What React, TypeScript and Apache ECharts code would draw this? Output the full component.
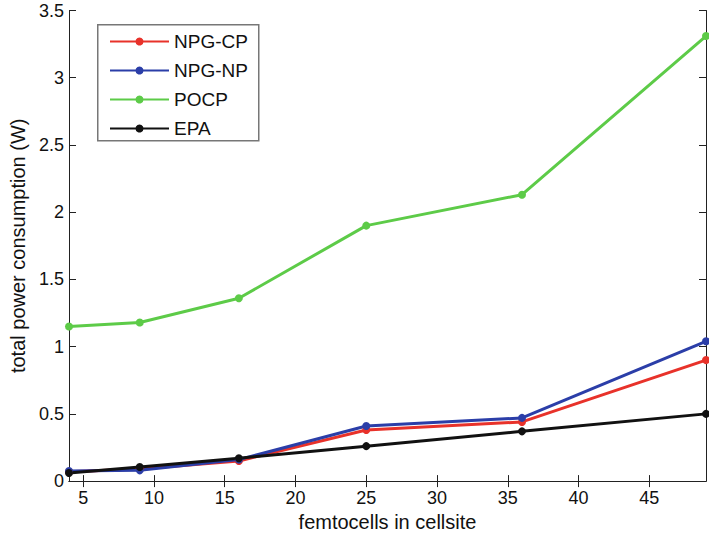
import React, { useEffect, useRef } from "react";
import * as echarts from "echarts";

const xValues = [4, 9, 16, 25, 36, 49];
const npgCP = [0.07, 0.09, 0.15, 0.38, 0.44, 0.9];
const npgNP = [0.075, 0.08, 0.16, 0.41, 0.47, 1.04];
const pocp = [1.15, 1.18, 1.36, 1.9, 2.13, 3.31];
const epa = [0.06, 0.105, 0.17, 0.26, 0.37, 0.5];
const seriesNames = ["NPG-CP", "NPG-NP", "POCP", "EPA"];
const seriesColors = ["#e8322a", "#2b3ea8", "#5dcb48", "#111111"];
const xTicks = [5, 10, 15, 20, 25, 30, 35, 40, 45];

const FONT = "'Liberation Sans', Arial, Helvetica, sans-serif";

export default function App() {
  const ref = useRef<HTMLDivElement>(null);
  useEffect(() => {
    document.body.style.margin = "0";
    if (!ref.current) return;
    const chart = echarts.init(ref.current, undefined, { renderer: "svg" });
    const allData = [npgCP, npgNP, pocp, epa];
    const axisLine = { show: true, lineStyle: { color: "#222", width: 1 } };
    const baseX = {
      type: "value" as const,
      min: 4,
      max: 49,
      splitLine: { show: false },
      axisLine,
    };
    const baseY = {
      type: "value" as const,
      min: 0,
      max: 3.5,
      interval: 0.5,
      splitLine: { show: false },
      axisLine,
    };
    chart.setOption({
      animation: false,
      backgroundColor: "#fff",
      textStyle: { fontFamily: FONT },
      grid: { left: 67.5, top: 10.5, right: 3, bottom: 55.5, containLabel: false },
      xAxis: [
        {
          ...baseX,
          position: "bottom",
          name: "femtocells in cellsite",
          nameLocation: "middle",
          nameGap: 30,
          nameTextStyle: { fontSize: 20, color: "#111", fontFamily: FONT },
          axisTick: { show: true, inside: true, length: 6, customValues: xTicks, lineStyle: { color: "#222" } },
          axisLabel: { show: true, customValues: xTicks, fontSize: 18, color: "#111", margin: 8, fontFamily: FONT },
        },
        {
          ...baseX,
          position: "top",
          axisTick: { show: true, inside: true, length: 6, customValues: xTicks, lineStyle: { color: "#222" } },
          axisLabel: { show: false },
        },
      ],
      yAxis: [
        {
          ...baseY,
          position: "left",
          name: "total power consumption (W)",
          nameLocation: "middle",
          nameGap: 41,
          nameTextStyle: { fontSize: 20, color: "#111", fontFamily: FONT },
          axisTick: { show: true, inside: true, length: 7, lineStyle: { color: "#222" } },
          axisLabel: { show: true, fontSize: 18, color: "#111", margin: 5, fontFamily: FONT },
        },
        {
          ...baseY,
          position: "right",
          axisTick: { show: true, inside: true, length: 7, lineStyle: { color: "#222" } },
          axisLabel: { show: false },
        },
      ],
      legend: {
        orient: "vertical",
        left: 97,
        top: 24,
        z: 10,
        padding: [8, 12, 7, 12],
        itemWidth: 59,
        itemHeight: 10,
        itemGap: 10,
        data: seriesNames,
        textStyle: { fontSize: 19, color: "#111", lineHeight: 18, fontFamily: FONT },
        backgroundColor: "transparent",
        borderWidth: 0,
      },
      graphic: [
        {
          type: "rect",
          left: 97,
          top: 24,
          shape: { width: 161, height: 116 },
          style: { fill: "#fff", stroke: "#777", lineWidth: 1.5 },
          z: 3,
          silent: true,
        },
      ],
      series: seriesNames.map((name, i) => ({
        name,
        type: "line",
        data: xValues.map((x, j) => [x, allData[i][j]]),
        symbol: "circle",
        symbolSize: 8,
        showSymbol: true,
        color: seriesColors[i],
        lineStyle: { width: 3, color: seriesColors[i] },
        itemStyle: { color: seriesColors[i] },
        clip: false,
        z: 2,
      })),
    });
    return () => chart.dispose();
  }, []);
  return <div ref={ref} style={{ width: 709, height: 537 }} />;
}
